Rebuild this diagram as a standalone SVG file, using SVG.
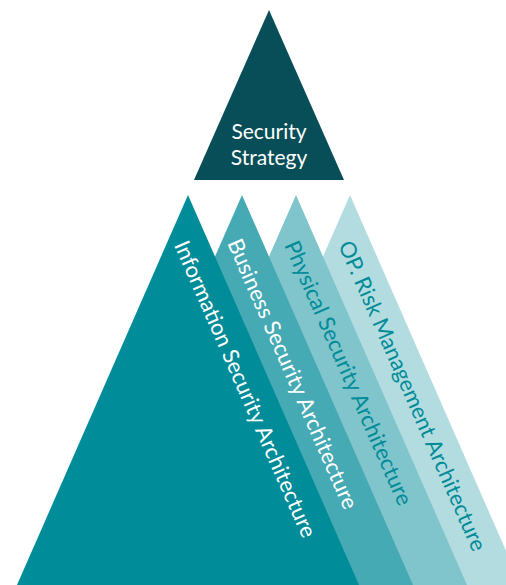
<svg xmlns="http://www.w3.org/2000/svg" width="506" height="585" viewBox="0 0 506 585">
<style>
.lbl{font-family:Lato,"Open Sans","Liberation Sans",sans-serif;font-size:22px}
.ttl{font-family:Lato,"Open Sans","Liberation Sans",sans-serif;font-size:21px}
.w{fill:#ffffff}
.t{fill:#008b98}
</style>
<rect width="506" height="585" fill="#ffffff"/>
<g id="op-risk">
<polygon points="350,195 521,585 179,585" fill="#b3dce0"/>
<text class="lbl t" transform="translate(350,195) rotate(66.35)" x="41" y="31" font-size="21.6">OP. Risk Management Architecture</text>
</g>
<g id="physical">
<polygon points="296,195 467,585 125,585" fill="#80c4cc"/>
<text class="lbl t" transform="translate(296,195) rotate(66.35)" x="41" y="31" font-size="21.6">Physical Security Architecture</text>
</g>
<g id="business">
<polygon points="242,195 413,585 71,585" fill="#46aab4"/>
<text class="lbl w" transform="translate(242,195) rotate(66.35)" x="38" y="33">Business Security Architecture</text>
</g>
<g id="information">
<polygon points="188,195 359,585 17,585" fill="#008c99"/>
<text class="lbl w" transform="translate(188,195) rotate(66.35)" x="40" y="33">Information Security Architecture</text>
</g>
<g id="strategy">
<polygon points="269,10 344,180 194,180" fill="#074e58"/>
<text class="ttl w" text-anchor="middle" x="269" y="139">Security</text>
<text class="ttl w" text-anchor="middle" x="269" y="165">Strategy</text>
</g>
</svg>
